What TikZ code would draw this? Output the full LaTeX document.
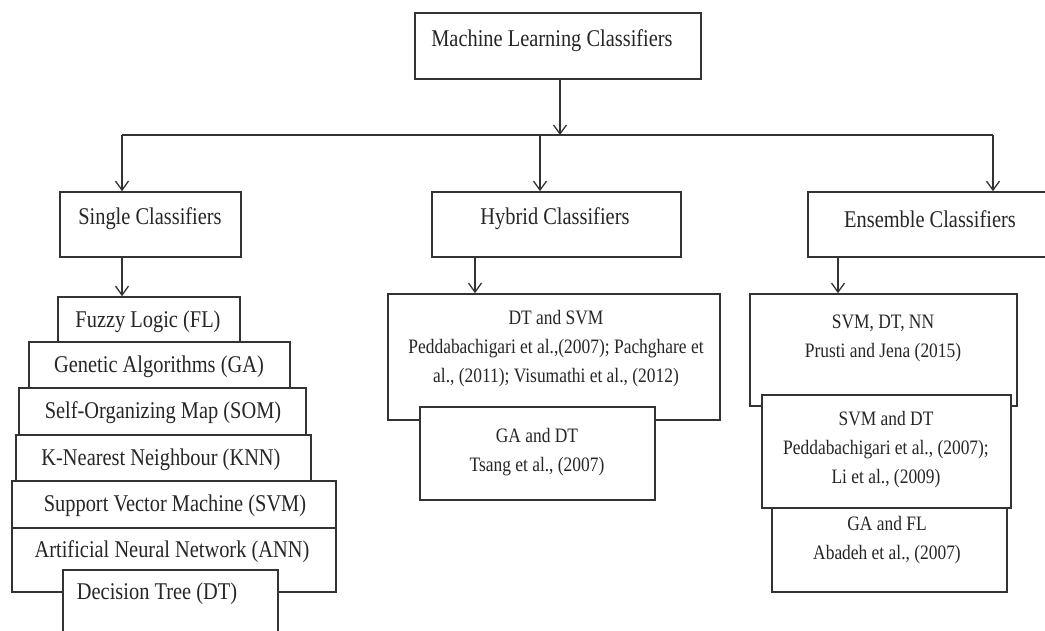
\documentclass[tikz,border=0pt]{standalone}
\usepackage{fontspec}
\setmainfont{Liberation Serif}[FakeStretch=0.85]
\usetikzlibrary{arrows.meta,fit}
\tikzset{
 box/.style={draw=black!80, line width=1.6pt, fill=white, inner sep=0pt, rectangle},
 lbl/.style={font=\fontsize{24}{28}\selectfont, inner sep=0pt, text=black!85},
 cnt/.style={font=\fontsize{20.5}{29}\selectfont, inner sep=0pt, align=center, text=black!85},
 conn/.style={draw=black!80, line width=1.6pt},
 arr/.style={conn, -{Straight Barb[length=9pt,width=13pt,line width=1.3pt]}},
}
\begin{document}
\begin{tikzpicture}[x=1pt,y=-1pt]
\clip (0,0) rectangle (1045,631);
\fill[white] (0,0) rectangle (1045,631);
% level 0 and 1
\node[box, fit={(415,13)(701,79)}] (top) {};
\node[lbl] (topt) at (552,41) {Machine Learning Classifiers};
\node[box, fit={(60,192)(241,257)}] (single) {};
\node[lbl] (singlet) at (150,219) {Single Classifiers};
\node[box, fit={(432,192)(681,257)}] (hybrid) {};
\node[lbl] (hybridt) at (555,219) {Hybrid Classifiers};
\node[box, fit={(808,192)(1060,257)}] (ens) {};
\node[lbl] (enst) at (930,219) {Ensemble Classifiers};
% bus
\coordinate (jn) at (560,135);
\coordinate (bL) at (122,135);
\coordinate (bM) at (540,135);
\coordinate (bR) at (993,135);
\draw[arr] (top.south -| jn) -- (jn);
\draw[conn] (bL) -- (bR);
\draw[arr] (bL) -- (bL |- single.north);
\draw[arr] (bM) -- (bM |- hybrid.north);
\draw[arr] (bR) -- (bR |- ens.north);
% single stack
\node[box, fit={(58,297)(240,342)}] (fl) {};
\node[lbl] (flt) at (148,322) {Fuzzy Logic (FL)};
\node[box, fit={(29,342)(290,388)}] (ga) {};
\node[lbl] (gat) at (159,367) {Genetic Algorithms (GA)};
\node[box, fit={(19,388)(306,435)}] (som) {};
\node[lbl] (somt) at (163,413) {Self-Organizing Map (SOM)};
\node[box, fit={(16,435)(311,481)}] (knn) {};
\node[lbl] (knnt) at (161,460) {K-Nearest Neighbour (KNN)};
\node[box, fit={(12,481)(336,528)}] (svm) {};
\node[lbl] (svmt) at (175,506) {Support Vector Machine (SVM)};
\node[box, fit={(12,528)(336,592)}] (ann) {};
\node[lbl] (annt) at (172,552) {Artificial Neural Network (ANN)};
\node[box, fit={(63,570)(278,650)}] (dt) {};
\node[lbl] (dtt) at (157,594) {Decision Tree (DT)};
\coordinate (sL) at (122,257);
\draw[arr] (sL) -- (sL |- fl.north);
% hybrid stack
\node[box, fit={(388,294)(720,420)}] (h1) {};
\node[cnt] (h1t) at (556,349) {DT and SVM\\Peddabachigari et al.,(2007); Pachghare et\\al., (2011); Visumathi et al., (2012)};
\node[box, fit={(420,407)(655,500)}] (h2) {};
\node[cnt] (h2t) at (537,452) {GA and DT\\Tsang et al., (2007)};
\coordinate (hL) at (475,257);
\draw[arr] (hL) -- (hL |- h1.north);
% ensemble stack
\node[box, fit={(750,294)(1017,406)}] (e1) {};
\node[cnt] (e1t) at (883,338) {SVM, DT, NN\\Prusti and Jena (2015)};
\node[box, fit={(772,508)(1007,592)}] (e3) {};
\node[cnt] (e3t) at (887,540) {GA and FL\\Abadeh et al., (2007)};
\node[box, fit={(762,395)(1011,508)}] (e2) {};
\node[cnt] (e2t) at (886,450) {SVM and DT\\Peddabachigari et al., (2007);\\Li et al., (2009)};
\coordinate (eL) at (838,257);
\draw[arr] (eL) -- (eL |- e1.north);
\end{tikzpicture}
\end{document}
